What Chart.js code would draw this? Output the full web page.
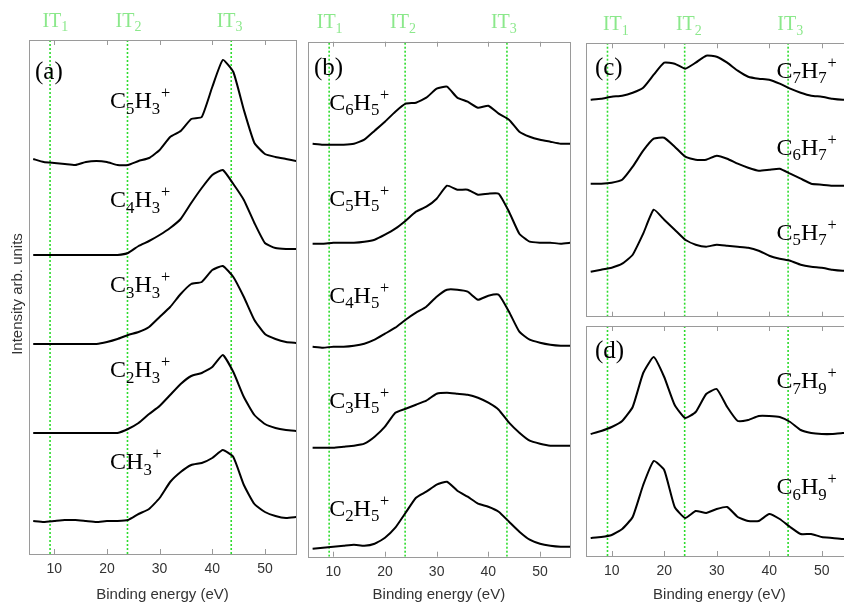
<!DOCTYPE html>
<html>
<head>
<meta charset="utf-8">
<script src="https://cdn.jsdelivr.net/npm/chart.js@4.4.0/dist/chart.umd.min.js"></script>
<style>
    html, body { margin: 0; padding: 0; background: #fff; overflow: hidden; }
    body { width: 844px; height: 606px; position: relative; }
    canvas { position: absolute; }
    #ylab {
        position: absolute; left: -82px; top: 284px; width: 200px; height: 20px;
        line-height: 20px; text-align: center; transform: rotate(-90deg);
        font: 15px "Liberation Sans", Arial, sans-serif; color: #333;
    }
</style>
</head>
<body>
<canvas id="chartA" width="306" height="606" style="left:0;top:0"></canvas>
<canvas id="chartB" width="282" height="606" style="left:298px;top:0"></canvas>
<canvas id="chartC" width="287" height="320" style="left:576px;top:0"></canvas>
<canvas id="chartD" width="287" height="290" style="left:576px;top:316px"></canvas>
<div id="ylab">Intensity arb. units</div>
<script>
// binding energy grid (eV) shared by all curves
var energies = [6, 8, 10, 12, 14, 16, 18, 20, 22, 24, 26, 28, 30, 32, 34, 36, 38, 40, 42, 44, 46, 48, 50, 52, 54, 56];
var tickLabels = [10, 20, 30, 40, 50];
var itEnergies = [9.2, 23.9, 43.6];
var itNames = ['IT_1', 'IT_2', 'IT_3'];

// (a) C_nH_3+ ions, stacked intensities (arb. units)
var namesA = ['C_5H_3^+', 'C_4H_3^+', 'C_3H_3^+', 'C_2H_3^+', 'CH_3^+'];
var c5h3 = [39.5, 39.2, 39.1, 39.0, 38.9, 39.2, 39.3, 39.2, 38.9, 38.9, 39.3, 39.6, 40.4, 41.7, 42.3, 43.5, 43.7, 46.7, 49.4, 48.2, 44.4, 41.1, 40.0, 39.7, 39.5, 39.3];
var c4h3 = [29.9, 29.9, 29.9, 29.9, 29.9, 29.9, 29.9, 29.9, 29.9, 30.1, 30.8, 31.3, 31.9, 32.6, 33.5, 35.1, 36.6, 37.9, 38.4, 37.0, 35.4, 33.1, 31.1, 30.6, 30.5, 30.5];
var c3h3 = [21.0, 21.0, 21.0, 21.0, 21.0, 21.0, 21.0, 21.2, 21.5, 21.9, 22.2, 22.7, 23.7, 24.7, 26.0, 27.0, 27.2, 28.4, 28.8, 27.7, 25.7, 23.4, 22.0, 21.5, 21.2, 21.1];
var c2h3 = [12.1, 12.1, 12.1, 12.1, 12.1, 12.1, 12.1, 12.1, 12.1, 12.5, 13.1, 14.0, 14.8, 15.9, 17.0, 17.8, 18.1, 18.7, 19.9, 18.2, 15.7, 13.9, 13.0, 12.6, 12.4, 12.3];
var ch3 = [3.3, 3.2, 3.3, 3.4, 3.4, 3.3, 3.2, 3.3, 3.3, 3.4, 4.0, 4.5, 5.6, 7.2, 8.2, 8.9, 9.1, 9.6, 10.4, 9.7, 6.9, 5.0, 4.2, 3.8, 3.6, 3.7];

// (b) C_nH_5+ ions
var namesB = ['C_6H_5^+', 'C_5H_5^+', 'C_4H_5^+', 'C_3H_5^+', 'C_2H_5^+'];
var c6h5 = [41.3, 41.2, 41.2, 41.2, 41.3, 41.7, 42.6, 43.5, 44.5, 45.3, 45.4, 45.9, 46.8, 47.0, 45.9, 45.5, 44.9, 45.1, 44.3, 43.7, 42.5, 42.0, 41.7, 41.5, 41.3, 41.3];
var c5h5 = [31.3, 31.3, 31.4, 31.4, 31.4, 31.5, 31.7, 32.2, 32.8, 33.6, 34.5, 35.0, 35.8, 37.1, 36.7, 36.7, 36.2, 36.3, 36.3, 34.5, 32.3, 31.5, 31.4, 31.4, 31.3, 31.4];
var c4h5 = [21.0, 20.9, 21.0, 21.0, 21.1, 21.3, 21.7, 22.3, 22.9, 23.7, 24.4, 25.0, 26.0, 26.7, 26.7, 26.5, 25.7, 26.1, 26.2, 24.5, 22.5, 21.7, 21.4, 21.2, 21.1, 21.1];
var c3h5 = [10.9, 10.9, 10.9, 11.0, 11.1, 11.3, 12.0, 13.0, 14.4, 14.8, 15.2, 15.6, 16.3, 16.4, 16.3, 16.2, 15.9, 15.4, 14.7, 13.4, 12.4, 11.6, 11.3, 11.1, 11.1, 11.1];
var c2h5 = [0.8, 0.9, 1.0, 1.1, 1.2, 1.1, 1.3, 1.9, 2.9, 4.4, 5.9, 6.5, 7.2, 7.5, 6.6, 6.0, 5.3, 5.0, 4.5, 3.5, 2.5, 1.7, 1.3, 1.1, 1.0, 1.0];

// (c) C_nH_7+ ions
var namesC = ['C_7H_7^+', 'C_6H_7^+', 'C_5H_7^+'];
var c7h7 = [21.7, 21.8, 22.0, 22.1, 22.4, 22.9, 24.2, 25.4, 25.3, 24.8, 25.4, 26.1, 26.0, 25.4, 24.6, 24.0, 23.8, 23.7, 23.3, 22.8, 22.4, 22.1, 22.0, 21.8, 21.7, 21.7];
var c6h7 = [13.3, 13.3, 13.4, 13.7, 15.0, 16.6, 17.8, 17.9, 17.0, 16.0, 15.7, 15.7, 16.1, 15.8, 15.3, 14.9, 14.6, 14.7, 14.8, 14.3, 13.8, 13.3, 13.2, 13.1, 13.1, 13.1];
var c5h7 = [4.5, 4.7, 4.9, 5.3, 6.2, 8.3, 10.7, 9.7, 8.7, 7.7, 7.2, 7.0, 7.2, 7.1, 7.0, 6.9, 6.6, 6.1, 5.8, 5.6, 5.2, 5.0, 4.9, 4.7, 4.6, 4.6];

// (d) C_nH_9+ ions
var namesD = ['C_7H_9^+', 'C_6H_9^+'];
var c7h9 = [12.2, 12.5, 12.9, 13.5, 14.9, 18.3, 19.9, 17.9, 15.1, 13.8, 14.4, 16.2, 16.7, 14.9, 13.5, 13.6, 14.0, 14.0, 13.9, 13.4, 12.6, 12.3, 12.2, 12.2, 12.3, 12.3];
var c6h9 = [1.8, 1.9, 2.1, 2.7, 3.9, 7.1, 9.5, 8.6, 4.9, 3.8, 4.5, 4.3, 4.7, 4.9, 3.9, 3.5, 3.5, 4.2, 3.7, 2.9, 2.2, 2.2, 1.9, 1.8, 1.7, 1.7];

var sans = '"Liberation Sans", Arial, sans-serif';
var serif = '"Liberation Serif", "Times New Roman", serif';

// draws text like C_5H_3^+ with sub/superscripts, returns width
function drawChem(ctx, text, x, y, size, color, measureOnly) {
    var x0 = x;
    ctx.fillStyle = color;
    for (var i = 0; i < text.length; i++) {
        var ch = text[i], mode = 'n';
        if (ch === '_' || ch === '^') { mode = ch; i++; ch = text[i]; }
        var fs = size, dy = 0;
        if (mode === '_') { fs = size * 0.7; dy = size * 0.24; }
        if (mode === '^') { fs = size * 0.68; dy = -size * 0.42; x += size * 0.03; }
        ctx.font = fs + 'px ' + serif;
        if (!measureOnly) ctx.fillText(ch, x, y + dy);
        x += ctx.measureText(ch).width;
    }
    return x - x0;
}

var framePlugin = {
    id: 'frame',
    afterDraw: function (chart) {
        var o = chart.options.plugins.frame;
        var a = chart.chartArea, xs = chart.scales.x, ys = chart.scales.y, ctx = chart.ctx;
        ctx.save();
        ctx.strokeStyle = '#9a9a9a';
        ctx.lineWidth = 1;
        ctx.strokeRect(Math.round(a.left) + 0.5, Math.round(a.top) + 0.5,
            Math.round(a.right - a.left), Math.round(a.bottom - a.top));
        ctx.beginPath();
        tickLabels.forEach(function (t) {
            var px = Math.round(xs.getPixelForValue(t)) + 0.5;
            ctx.moveTo(px, a.top); ctx.lineTo(px, a.top + 5);
            ctx.moveTo(px, a.bottom); ctx.lineTo(px, a.bottom - 5);
        });
        ctx.stroke();

        ctx.textBaseline = 'alphabetic';
        ctx.textAlign = 'left';
        ctx.fillStyle = '#000';
        ctx.font = '25px ' + serif;
        ctx.fillText(o.letter[0], xs.getPixelForValue(o.letter[1]), ys.getPixelForValue(o.letter[2]));

        o.names.forEach(function (n, i) {
            var p = o.namePos[i];
            drawChem(ctx, n, xs.getPixelForValue(p[0]), ys.getPixelForValue(p[1]), 24, '#000');
        });

        if (o.itLabelX) {
            o.itLabelX.forEach(function (e, i) {
                var w = drawChem(ctx, itNames[i], 0, 0, 20, '#8be88b', true);
                drawChem(ctx, itNames[i], xs.getPixelForValue(e) - w / 2, a.top - 13.5, 20, '#8be88b');
            });
        }
        ctx.restore();
    }
};

function makePanel(id, p) {
    var datasets = p.series.map(function (vals) {
        return {
            data: vals.map(function (v, i) { return { x: energies[i], y: v }; }),
            borderColor: '#000', borderWidth: 2, pointRadius: 0, tension: 0.15, fill: false
        };
    });
    itEnergies.forEach(function (e) {
        datasets.push({
            data: [{ x: e, y: p.yMin }, { x: e, y: p.yMax }],
            borderColor: '#2edc2e', borderWidth: 1.6, borderDash: [2, 2], pointRadius: 0
        });
    });

    new Chart(document.getElementById(id), {
        type: 'line',
        data: { datasets: datasets },
        plugins: [framePlugin],
        options: {
            responsive: false,
            animation: false,
            events: [],
            layout: { padding: p.padding },
            plugins: {
                legend: { display: false },
                tooltip: { enabled: false },
                frame: { letter: p.letter, names: p.names, namePos: p.namePos, itLabelX: p.itLabelX }
            },
            scales: {
                x: {
                    type: 'linear',
                    min: p.xMin,
                    max: p.xMax,
                    display: p.showX,
                    grid: { display: false, drawTicks: false },
                    border: { display: false },
                    afterBuildTicks: function (s) {
                        s.ticks = tickLabels.map(function (v) { return { value: v }; });
                    },
                    afterFit: function (s) { s.height = p.axisH; },
                    ticks: { font: { family: sans, size: 14 }, color: '#333', padding: 7, maxRotation: 0 },
                    title: {
                        display: true, text: 'Binding energy (eV)', color: '#333',
                        font: { family: sans, size: 15 }, padding: { top: 0, bottom: 2 }
                    }
                },
                y: { display: false, min: p.yMin, max: p.yMax }
            }
        }
    });
}

makePanel('chartA', {
    series: [c5h3, c4h3, c3h3, c2h3, ch3],
    names: namesA,
    namePos: [[20.6, 44.6], [20.6, 34.7], [20.6, 26.2], [20.6, 17.7], [20.6, 8.5]],
    letter: ['(a)', 6.34, 47.5],
    itLabelX: [10.2, 24.1, 43.3],
    xMin: 5.2, xMax: 55.9, yMin: 0, yMax: 51.4,
    padding: { left: 29, top: 40, right: 10, bottom: 0 }, axisH: 52, showX: true
});

makePanel('chartB', {
    series: [c6h5, c5h5, c4h5, c3h5, c2h5],
    names: namesB,
    namePos: [[9.2, 44.7], [9.2, 35.1], [9.2, 25.4], [9.2, 14.9], [9.2, 4.1]],
    letter: ['(b)', 6.27, 48.2],
    itLabelX: [9.3, 23.5, 43.0],
    xMin: 5.05, xMax: 55.8, yMin: 0, yMax: 51.5,
    padding: { left: 9.7, top: 41.7, right: 10, bottom: 0 }, axisH: 49.3, showX: true
});

makePanel('chartC', {
    series: [c7h7, c6h7, c5h7],
    names: namesC,
    namePos: [[41.4, 23.9], [41.4, 16.2], [41.4, 7.7]],
    letter: ['(c)', 6.8, 24.2],
    itLabelX: [10.8, 24.7, 44.0],
    xMin: 5.05, xMax: 55.96, yMin: 0, yMax: 27.34,
    padding: { left: 9.7, top: 43.3, right: 10, bottom: 3.3 }, axisH: 0, showX: false
});

makePanel('chartD', {
    series: [c7h9, c6h9],
    names: namesD,
    namePos: [[41.4, 16.8], [41.4, 6.2]],
    letter: ['(d)', 6.8, 19.8],
    itLabelX: null,
    xMin: 5.05, xMax: 55.96, yMin: 0, yMax: 23,
    padding: { left: 9.7, top: 10, right: 10, bottom: 0 }, axisH: 50, showX: true
});
</script>
</body>
</html>
